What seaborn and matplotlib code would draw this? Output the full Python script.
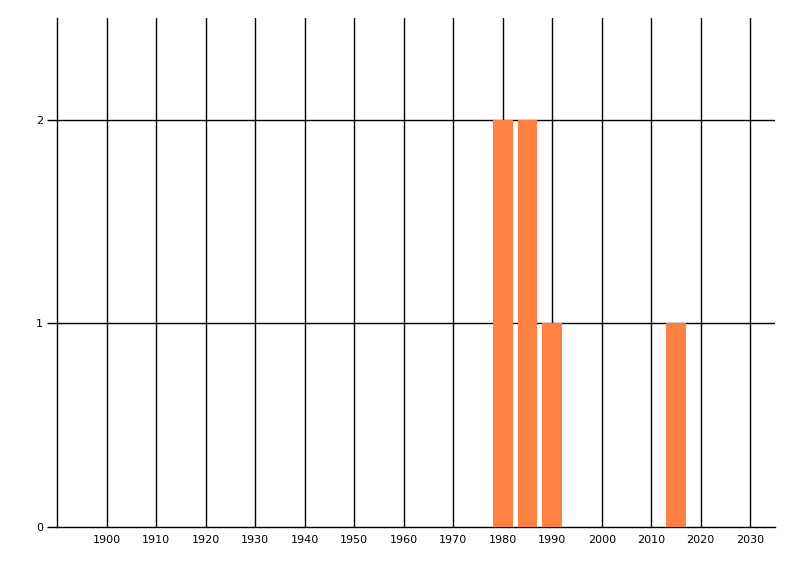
import matplotlib
matplotlib.use("Agg")
import matplotlib.pyplot as plt
import seaborn as sns

years = [1980, 1985, 1990, 2015]
counts = [2, 2, 1, 1]
x_ticks = list(range(1900, 2031, 10))
y_ticks = [0, 1, 2]

sns.set_style("white")
plt.rcParams['font.family'] = ['DejaVu Sans']

fig = plt.figure(figsize=(8, 5.76), dpi=100)
ax = fig.add_axes([57 / 800, 49 / 576, 718 / 800, 509 / 576])

sns.barplot(x=years, y=counts, native_scale=True, width=0.8,
            color="#FF8040", saturation=1, edgecolor="none", ax=ax, zorder=3)

ax.set_xlim(1890, 2035)
ax.set_ylim(0, 2.5)
ax.set_xticks(x_ticks)
ax.set_yticks(y_ticks)
ax.set_xticklabels([str(t) for t in x_ticks], fontsize=8)
ax.set_yticklabels([str(t) for t in y_ticks], fontsize=8)
ax.tick_params(axis="x", bottom=False, length=0, pad=6, labelcolor="black")
ax.tick_params(axis="y", left=True, length=7, width=1, color="black",
               pad=3, labelcolor="black")

for t in x_ticks:
    ax.axvline(t, color="black", linewidth=1, zorder=1)
for t in [1, 2]:
    ax.axhline(t, color="black", linewidth=1, zorder=1)

for side in ["top", "right"]:
    ax.spines[side].set_visible(False)
for side in ["left", "bottom"]:
    ax.spines[side].set_color("black")
    ax.spines[side].set_linewidth(1)

ax.set_xlabel("")
ax.set_ylabel("")

fig.savefig("out.png", dpi=100)
